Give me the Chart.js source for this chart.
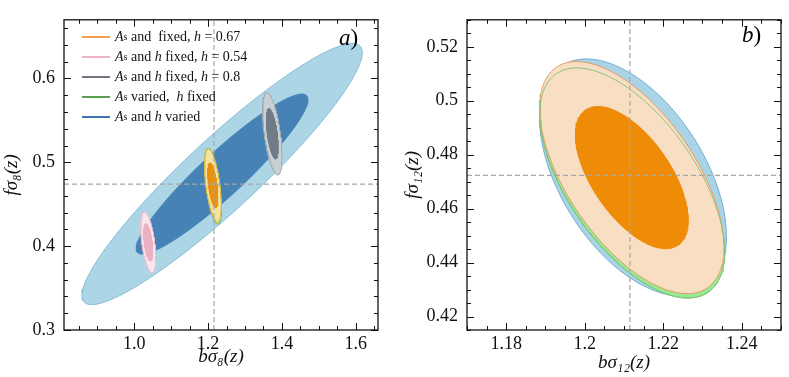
<!DOCTYPE html>
<html>
<head>
<meta charset="utf-8">
<script src="https://cdn.jsdelivr.net/npm/chart.js@4.4.0/dist/chart.umd.min.js"></script>
<style>
  body { margin: 0; background: #fff; width: 789px; height: 377px; overflow: hidden; position: relative; font-family: "Liberation Serif", serif; }
  canvas { position: absolute; top: 0; }
  #chartA { left: 0; }
  #chartB { left: 395px; }
  .legend { position: absolute; left: 82px; top: 27px; font-size: 14px; line-height: 20px; color: #111; }
  .legend div { display: flex; align-items: center; white-space: pre; height: 20px; }
  .legend .ln { display: inline-block; width: 28px; height: 2px; margin-right: 5px; }
  .legend sub { font-size: 10px; vertical-align: -2px; line-height: 0; }
  .tag { position: absolute; font-size: 23px; line-height: 1; }
</style>
</head>
<body>
<canvas id="chartA" width="395" height="377"></canvas>
<canvas id="chartB" width="394" height="377"></canvas>

<div class="legend" id="legendA"></div>
<div class="tag" style="left:339px; top:26px;"><i>a</i>)</div>
<div class="tag" style="left:742px; top:23px;"><i>b</i>)</div>

<script>
// ---- panel a) : fσ8 vs bσ8 ----
// each contour: centre x, centre y, sigma x, sigma y, correlation
const aVaried   = [1.238, 0.486, 0.153, 0.0628, 0.93];    // As and h varied
const aH080     = [1.374, 0.534, 0.0106, 0.0198, -0.55];  // h = 0.8
const aHFixed   = [1.2135, 0.4716, 0.0093, 0.0182, -0.55]; // As varied, h fixed
const aH067     = [1.213, 0.4726, 0.0091, 0.0176, -0.55]; // h = 0.67
const aH054     = [1.038, 0.4046, 0.0082, 0.0146, -0.5];  // h = 0.54
const aFiducial = [1.216, 0.474];
const aXRange = [0.81, 1.66];
const aYRange = [0.3, 0.67];
const aXTicks = [1.0, 1.2, 1.4, 1.6];
const aXLabels = ["1.0", "1.2", "1.4", "1.6"];
const aYTicks = [0.3, 0.4, 0.5, 0.6];
const aYLabels = ["0.3", "0.4", "0.5", "0.6"];

// ---- panel b) : fσ12 vs bσ12 ----
const bBlue   = [1.2123, 0.4716, 0.0096, 0.0177, -0.5];
const bGreen  = [1.2121, 0.4695, 0.0095, 0.0172, -0.6];
const bOrange = [1.212, 0.4715, 0.00947, 0.01735, -0.6];
const bFiducial = [1.2115, 0.4723];
const bXRange = [1.17, 1.25];
const bYRange = [0.415, 0.53];
const bXTicks = [1.18, 1.2, 1.22, 1.24];
const bXLabels = ["1.18", "1.2", "1.22", "1.24"];
const bYTicks = [0.42, 0.44, 0.46, 0.48, 0.5, 0.52];
const bYLabels = ["0.42", "0.44", "0.46", "0.48", "0.5", "0.52"];

const legendItems = [
  { color: "#f0a04b", html: "<i>A</i><sub>s</sub> and  fixed, <i>h</i> = 0.67" },
  { color: "#eeb0c6", html: "<i>A</i><sub>s</sub> and <i>h</i> fixed, <i>h</i> = 0.54" },
  { color: "#6f7880", html: "<i>A</i><sub>s</sub> and <i>h</i> fixed, <i>h</i> = 0.8" },
  { color: "#5aa04f", html: "<i>A</i><sub>s</sub> varied,  <i>h</i> fixed" },
  { color: "#3d76b0", html: "<i>A</i><sub>s</sub> and <i>h</i> varied" }
];

const ONE_SIGMA = 1.52, TWO_SIGMA = 2.48;

function contour(c, k) {
  const [cx, cy, sx, sy, rho] = c;
  const s = Math.sqrt(1 - rho * rho);
  const pts = [];
  for (let i = 0; i <= 160; i++) {
    const t = 2 * Math.PI * i / 160;
    pts.push({ x: cx + k * sx * Math.cos(t), y: cy + k * sy * (rho * Math.cos(t) + s * Math.sin(t)) });
  }
  return pts;
}

function shape(c, k, fill, edge, width) {
  return {
    data: contour(c, k),
    showLine: true,
    fill: fill ? "shape" : false,
    backgroundColor: fill || "rgba(0,0,0,0)",
    borderColor: edge,
    borderWidth: width === undefined ? 1 : width,
    pointRadius: 0,
    tension: 0
  };
}

function dashed(points) {
  return {
    data: points,
    showLine: true,
    fill: false,
    borderColor: "#a8a8a8",
    borderWidth: 1.2,
    borderDash: [5, 3],
    pointRadius: 0
  };
}

// inward ticks on all four sides plus the frame
const frameTicks = {
  id: "frameTicks",
  afterDraw(chart, args, opts) {
    const { ctx, chartArea: a, scales: { x, y } } = chart;
    ctx.save();
    ctx.strokeStyle = "#111";
    ctx.lineWidth = 1;
    const marks = (scale, step, len) => {
      const n = Math.ceil(scale.min / step - 1e-6);
      for (let v = n * step; v <= scale.max + 1e-9; v += step) {
        const p = Math.round(scale.getPixelForValue(v)) + 0.5;
        ctx.beginPath();
        if (scale.axis === "x") {
          ctx.moveTo(p, a.bottom); ctx.lineTo(p, a.bottom - len);
          ctx.moveTo(p, a.top); ctx.lineTo(p, a.top + len);
        } else {
          ctx.moveTo(a.left, p); ctx.lineTo(a.left + len, p);
          ctx.moveTo(a.right, p); ctx.lineTo(a.right - len, p);
        }
        ctx.stroke();
      }
    };
    marks(x, opts.xMinor, 4);
    marks(x, opts.xMajor, 7);
    marks(y, opts.yMinor, 4);
    marks(y, opts.yMajor, 7);
    ctx.lineWidth = 1.3;
    ctx.strokeRect(a.left, a.top, a.width, a.height);
    ctx.restore();
  }
};

const tickFont = { family: "Liberation Serif", size: 18 };
const titleFont = { family: "Liberation Serif", size: 19, style: "italic" };

function makeChart(id, datasets, p) {
  datasets.forEach((d, i) => { d.order = datasets.length - i; });
  return new Chart(document.getElementById(id), {
    type: "scatter",
    data: { datasets },
    options: {
      responsive: false,
      animation: false,
      events: [],
      layout: { padding: { left: 0, right: p.padRight, top: p.padTop, bottom: 0 } },
      plugins: {
        legend: { display: false },
        tooltip: { enabled: false },
        frameTicks: p.ticks
      },
      scales: {
        x: {
          type: "linear",
          min: p.xRange[0], max: p.xRange[1],
          grid: { display: false, drawTicks: false },
          border: { display: false },
          afterBuildTicks: s => { s.ticks = p.xTicks.map(v => ({ value: v })); },
          afterFit: s => { s.height = p.xHeight; },
          ticks: { font: tickFont, color: "#111", padding: p.xPad, maxRotation: 0,
                   callback: (v, i) => p.xLabels[i] },
          title: { display: true, text: p.xTitle, font: titleFont, color: "#111",
                   padding: { top: 0, bottom: p.xTitlePad } }
        },
        y: {
          type: "linear",
          min: p.yRange[0], max: p.yRange[1],
          grid: { display: false, drawTicks: false },
          border: { display: false },
          afterBuildTicks: s => { s.ticks = p.yTicks.map(v => ({ value: v })); },
          afterFit: s => { s.width = p.yWidth; },
          ticks: { font: tickFont, color: "#111", padding: 9,
                   callback: (v, i) => p.yLabels[i] },
          title: { display: true, text: p.yTitle, font: titleFont, color: "#111",
                   padding: { top: p.yTitlePad, bottom: 0 } }
        }
      }
    },
    plugins: [frameTicks]
  });
}

// panel a, listed bottom to top
makeChart("chartA", [
  shape(aVaried, TWO_SIGMA, "#acd6e6", "#86bcd6"),
  shape(aVaried, ONE_SIGMA, "#4682b6", "#4682b6"),
  shape(aH080, TWO_SIGMA, "#c9cfd3", "#a3aaaf"),
  shape(aH080, ONE_SIGMA, "#6f7b86", "#6f7b86"),
  shape(aHFixed, TWO_SIGMA, "#dfeaa8", "#7cb863"),
  shape(aH067, TWO_SIGMA, "#f3e4a6", "#d9bb45"),
  shape(aH067, ONE_SIGMA, "#e8910c", "#e8910c"),
  shape(aH054, TWO_SIGMA, "#f8e6ee", "#f0bccd"),
  shape(aH054, ONE_SIGMA, "#ebb1c4", "#ebb1c4"),
  dashed([{ x: aXRange[0], y: aFiducial[1] }, { x: aXRange[1], y: aFiducial[1] }]),
  dashed([{ x: aFiducial[0], y: aYRange[0] }, { x: aFiducial[0], y: aYRange[1] }])
], {
  xRange: aXRange, yRange: aYRange, xTicks: aXTicks, xLabels: aXLabels,
  yTicks: aYTicks, yLabels: aYLabels,
  padRight: 17, padTop: 15, xHeight: 47, yWidth: 64, xPad: 3,
  xTitle: "bσ₈(z)", yTitle: "fσ₈(z)", xTitlePad: 9, yTitlePad: 1,
  ticks: { xMajor: 0.2, xMinor: 0.05, yMajor: 0.1, yMinor: 0.02 }
});

// panel b
makeChart("chartB", [
  shape(bBlue, TWO_SIGMA, "#a9d4e5", "#74aed3"),
  shape(bGreen, TWO_SIGMA, "#96ea92", "#6cbf69"),
  shape(bOrange, TWO_SIGMA, "#f8dfc3", "#e89a68"),
  shape(bGreen, TWO_SIGMA, false, "#8cc47e"),
  shape(bOrange, ONE_SIGMA, "#ee8b07", "#ee8b07"),
  dashed([{ x: bXRange[0], y: bFiducial[1] }, { x: bXRange[1], y: bFiducial[1] }]),
  dashed([{ x: bFiducial[0], y: bYRange[0] }, { x: bFiducial[0], y: bYRange[1] }])
], {
  xRange: bXRange, yRange: bYRange, xTicks: bXTicks, xLabels: bXLabels,
  yTicks: bYTicks, yLabels: bYLabels,
  padRight: 8, padTop: 16, xHeight: 47, yWidth: 72, xPad: 3,
  xTitle: "bσ₁₂(z)", yTitle: "fσ₁₂(z)", xTitlePad: 3, yTitlePad: 7,
  ticks: { xMajor: 0.02, xMinor: 0.005, yMajor: 0.02, yMinor: 0.005 }
});

document.getElementById("legendA").innerHTML = legendItems
  .map(it => `<div><span class="ln" style="background:${it.color}"></span>${it.html}</div>`)
  .join("");
</script>
</body>
</html>
